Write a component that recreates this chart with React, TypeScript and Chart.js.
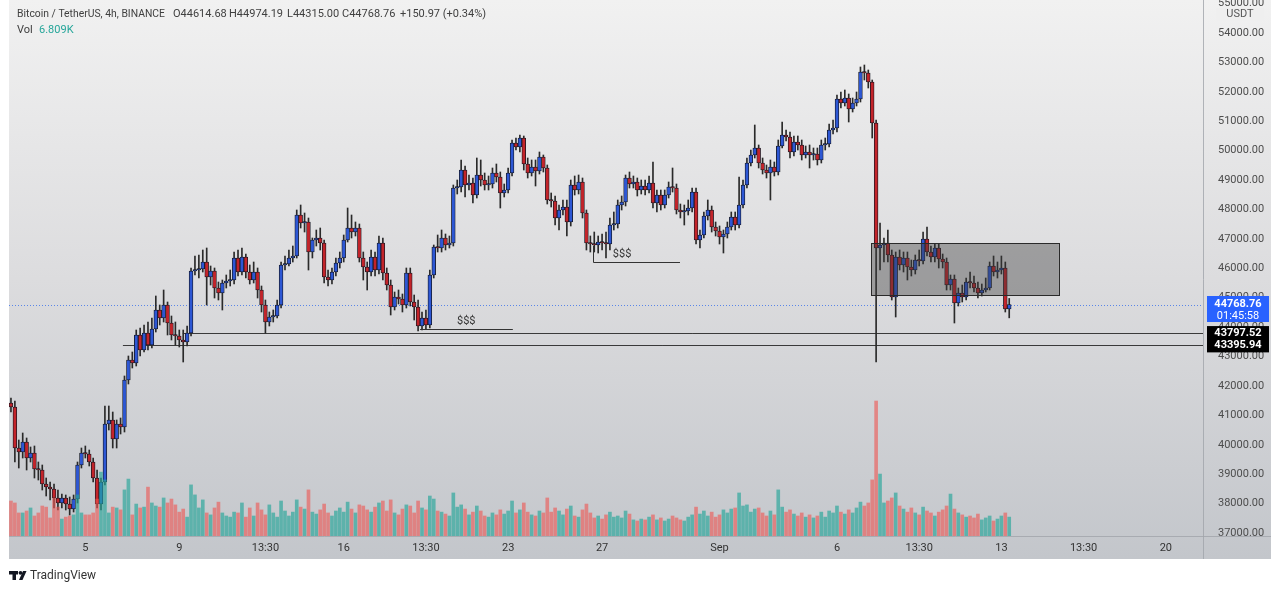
import React, { useEffect, useRef } from 'react';
import { Chart, registerables } from 'chart.js';

Chart.register(...registerables);

// ---- candle data (BTC/USDT 4h) ----
const opens = [
  41420, 41284, 39890, 39754, 40094, 39550, 39720, 39176, 39142, 38666,
  38564, 38496, 38190, 38020, 38190, 37986, 37816, 38156, 39312, 39720,
  39686, 39414, 38870, 37986, 38734, 40706, 40842, 40196, 40706, 40604,
  42202, 42882, 42780, 43732, 43222, 43800, 43392, 43936, 44582, 44310,
  44752, 44140, 43732, 43698, 43562, 43494, 43800, 45908, 45942, 45976,
  46214, 45704, 45908, 45330, 45160, 45500, 45568, 45602, 46350, 45874,
  46384, 45874, 45602, 45874, 45262, 44752, 44174, 44344, 44378, 44752,
  46112, 46146, 46350, 46418, 47812, 47540, 47574, 46554, 46962, 47030,
  46860, 45704, 45602, 45874, 46180, 46350, 46962, 47370, 47234, 47370,
  46350, 46044, 45874, 46384, 45942, 46860, 45840, 45432, 44684, 45024,
  44956, 44752, 45840, 44854, 44684, 44038, 44310, 44072, 45772, 46724,
  46690, 47030, 46792, 46860, 48730, 48764, 49342, 48832, 48900, 48492,
  49172, 49002, 48832, 48866, 49240, 49104, 48560, 48662, 49240, 50260,
  50124, 50430, 49546, 49240, 49444, 49308, 49784, 49410, 48322, 48288,
  47710, 47982, 48084, 47574, 48832, 48662, 48934, 47880, 46860, 46826,
  46792, 46894, 46860, 46826, 47472, 47506, 48152, 48254, 49070, 48866,
  48934, 48662, 48798, 48662, 48900, 48220, 48492, 48152, 48492, 48764,
  48730, 47982, 47914, 47948, 48050, 48594, 46962, 47132, 47778, 47982,
  47404, 47268, 47064, 47166, 47404, 47744, 47472, 48152, 48832, 49580,
  49852, 50090, 49580, 49342, 49240, 49444, 49274, 50158, 50532, 50464,
  49954, 50294, 50192, 49852, 49954, 49852, 49886, 49682, 50192, 50226,
  50702, 50770, 51756, 51620, 51790, 51416, 51620, 51756, 52674, 52640,
  52334, 50940, 46690, 46792, 46860, 46452, 45024, 46384, 46112, 46350,
  46044, 45942, 46282, 46248, 46996, 46554, 46384, 46690, 46316, 46214,
  45432, 45636, 44820, 45160, 45024, 45534, 45500, 45330, 45160, 45262,
  45330, 46078, 45874, 45942, 46010, 44614.68,
];

const closes = [
  41284, 39890, 39754, 40094, 39550, 39720, 39176, 39142, 38666, 38564,
  38496, 38190, 38020, 38190, 37986, 37816, 38156, 39312, 39720, 39686,
  39414, 38870, 37986, 38734, 40706, 40842, 40196, 40706, 40604, 42202,
  42882, 42780, 43732, 43222, 43800, 43392, 43936, 44582, 44310, 44752,
  44140, 43732, 43698, 43562, 43494, 43800, 45908, 45942, 45976, 46214,
  45704, 45908, 45330, 45160, 45500, 45568, 45602, 46350, 45874, 46384,
  45874, 45602, 45874, 45262, 44752, 44174, 44344, 44378, 44752, 46112,
  46146, 46350, 46418, 47812, 47540, 47574, 46554, 46962, 47030, 46860,
  45704, 45602, 45874, 46180, 46350, 46962, 47370, 47234, 47370, 46350,
  46044, 45874, 46384, 45942, 46860, 45840, 45432, 44684, 45024, 44956,
  44752, 45840, 44854, 44684, 44038, 44310, 44072, 45772, 46724, 46690,
  47030, 46792, 46860, 48730, 48764, 49342, 48832, 48900, 48492, 49172,
  49002, 48832, 48866, 49240, 49104, 48560, 48662, 49240, 50260, 50124,
  50430, 49546, 49240, 49444, 49308, 49784, 49410, 48322, 48288, 47710,
  47982, 48084, 47574, 48832, 48662, 48934, 47880, 46860, 46826, 46792,
  46894, 46860, 46826, 47472, 47506, 48152, 48254, 49070, 48866, 48934,
  48662, 48798, 48662, 48900, 48220, 48492, 48152, 48492, 48764, 48730,
  47982, 47914, 47948, 48050, 48594, 46962, 47132, 47778, 47982, 47404,
  47268, 47064, 47166, 47404, 47744, 47472, 48152, 48832, 49580, 49852,
  50090, 49580, 49342, 49240, 49444, 49274, 50158, 50532, 50464, 49954,
  50294, 50192, 49852, 49954, 49852, 49886, 49682, 50192, 50226, 50702,
  50770, 51756, 51620, 51790, 51416, 51620, 51756, 52674, 52640, 52334,
  50940, 46690, 46792, 46860, 46452, 45024, 46384, 46112, 46350, 46044,
  45942, 46282, 46248, 46996, 46554, 46384, 46690, 46316, 46214, 45432,
  45636, 44820, 45160, 45024, 45534, 45500, 45330, 45160, 45262, 45330,
  46078, 45874, 45942, 46010, 44614.68, 44768.76,
];

const highs = [
  41590, 41488, 40162, 40400, 40230, 39924, 39958, 39414, 39312, 38870,
  38734, 38666, 38462, 38326, 38292, 38224, 38292, 39414, 39890, 39958,
  39822, 39550, 39142, 38870, 41318, 41318, 41114, 40842, 40910, 42338,
  43018, 43154, 43902, 43970, 44072, 44174, 44310, 45058, 44752, 45262,
  44854, 44378, 44174, 43902, 43902, 44038, 46010, 46418, 46452, 46622,
  46690, 46078, 46010, 45534, 45602, 45772, 45942, 46554, 46622, 46690,
  46486, 46112, 46214, 46010, 45398, 44922, 44514, 44582, 44922, 46214,
  46418, 46622, 46758, 47982, 48152, 47880, 47710, 47030, 47302, 47370,
  46962, 45942, 46010, 46350, 46554, 47132, 48050, 47812, 47574, 47506,
  46554, 46214, 46622, 46554, 47098, 47030, 46010, 45602, 45194, 45262,
  45126, 46010, 46010, 45092, 44922, 44514, 44582, 45942, 46792, 47132,
  47302, 47166, 47098, 48832, 49002, 49682, 49478, 49172, 49070, 49750,
  49682, 49240, 49138, 49410, 49546, 49274, 48866, 49410, 50362, 50430,
  50532, 50498, 49750, 49682, 49682, 49954, 49852, 49512, 48560, 48458,
  48152, 48322, 48322, 49002, 49138, 49172, 49070, 47982, 47098, 47234,
  47098, 47166, 47234, 47710, 47914, 48322, 48458, 49172, 49274, 49138,
  49070, 49002, 49002, 49138, 49614, 48662, 48662, 48662, 48934, 49410,
  48866, 48186, 48152, 48322, 48730, 48730, 47302, 47914, 48322, 48118,
  47574, 47438, 47302, 47574, 47914, 47914, 49104, 49002, 49750, 50022,
  50872, 50192, 49750, 49512, 49682, 49614, 50362, 50974, 50702, 50634,
  50498, 50498, 50362, 50158, 50192, 50090, 50090, 50362, 50430, 50906,
  51042, 51892, 51994, 52062, 51926, 51790, 51994, 52844, 52912, 52742,
  52402, 51042, 47540, 47030, 47302, 46622, 46554, 46622, 46554, 46554,
  46282, 46452, 46622, 47234, 47404, 46758, 46826, 46826, 46486, 46350,
  45772, 45772, 45330, 45432, 45670, 45874, 45738, 45534, 45466, 45670,
  46214, 46418, 46214, 46418, 46214, 44974.19,
];

const lows = [
  41114, 39414, 39210, 39550, 39142, 39414, 38870, 38802, 38462, 38258,
  38122, 37850, 37782, 37850, 37782, 37612, 37714, 38020, 39210, 39550,
  39278, 38734, 37850, 37782, 38632, 40502, 39890, 39890, 40366, 40434,
  42066, 42610, 42678, 43018, 43154, 43222, 43290, 43834, 44072, 44174,
  43732, 43562, 43392, 43324, 42814, 43358, 43698, 45772, 45670, 45874,
  44752, 45432, 44990, 44922, 44582, 45330, 45398, 45466, 45738, 45772,
  45670, 45466, 45500, 44990, 44514, 43800, 44038, 44174, 44310, 44650,
  45942, 46078, 46214, 46350, 47370, 47234, 45942, 46350, 46758, 46622,
  45500, 45398, 45466, 45738, 46010, 46214, 46894, 47030, 47098, 46214,
  45602, 45262, 45738, 45738, 45806, 45602, 45262, 44412, 44582, 44786,
  44514, 44650, 44718, 44242, 43868, 43902, 43936, 43970, 45670, 46554,
  46554, 46622, 46690, 46758, 48526, 48594, 48424, 48662, 48220, 48390,
  48798, 48662, 48662, 48730, 48934, 48050, 48424, 48560, 49138, 50022,
  49954, 49342, 49070, 49138, 48798, 49206, 49274, 48186, 48084, 47472,
  47302, 47812, 47098, 47438, 48492, 48526, 47710, 46622, 46554, 46554,
  46520, 46622, 46350, 46622, 47302, 47370, 47982, 48118, 48730, 48730,
  48458, 48526, 48492, 48560, 48050, 47914, 47982, 48050, 48390, 48594,
  47846, 47710, 47472, 47812, 47914, 46826, 46690, 47030, 47642, 47234,
  47098, 46826, 46520, 47030, 47302, 47302, 47370, 48050, 48730, 49478,
  49750, 49410, 49206, 49070, 48322, 49138, 49172, 50090, 50328, 49750,
  49818, 50022, 49682, 49750, 49410, 49682, 49512, 49580, 50022, 50124,
  50566, 50634, 51450, 51518, 50974, 51314, 51518, 51654, 52402, 52130,
  50430, 42814, 45942, 46214, 46214, 44922, 44344, 45942, 45874, 45602,
  45738, 45806, 46078, 46146, 46418, 46214, 46214, 46010, 46010, 45262,
  45262, 44140, 44718, 44854, 44922, 45330, 45194, 44990, 45058, 45194,
  45262, 45738, 45670, 45806, 44514, 44315.0,
];

// volume in thousands of BTC
const volumes = [
  12.6, 11.9, 8.3, 8.3, 9.0, 10.1, 7.2, 8.3, 10.8, 10.4,
  6.5, 13.7, 10.4, 6.1, 6.8, 7.2, 7.6, 14.8, 8.3, 7.6,
  7.6, 8.3, 13.3, 23.0, 20.2, 8.3, 10.4, 10.1, 9.4, 16.6,
  20.5, 7.6, 11.5, 10.1, 10.4, 17.6, 11.9, 10.8, 10.4, 13.7,
  11.9, 13.3, 11.2, 8.6, 9.7, 6.8, 18.4, 14.8, 10.1, 13.0,
  8.3, 7.6, 10.1, 12.2, 8.3, 7.2, 6.8, 8.6, 8.3, 11.9,
  6.8, 10.1, 7.2, 11.9, 9.4, 7.6, 11.2, 8.3, 6.8, 12.6,
  9.0, 7.2, 8.6, 13.0, 10.4, 9.7, 16.6, 8.6, 7.9, 9.4,
  11.5, 8.3, 7.2, 9.0, 10.1, 8.6, 12.2, 9.7, 8.3, 11.2,
  10.8, 9.4, 8.6, 10.4, 11.9, 12.6, 9.0, 13.0, 8.3, 7.6,
  9.7, 11.2, 10.8, 8.3, 12.6, 10.1, 9.4, 14.4, 13.3, 9.0,
  8.6, 7.9, 7.2, 15.5, 10.4, 11.2, 9.7, 7.6, 8.6, 10.8,
  9.0, 7.2, 6.8, 8.3, 7.6, 9.4, 7.9, 9.0, 12.6, 8.3,
  9.4, 11.9, 8.6, 7.6, 7.2, 9.0, 8.3, 13.7, 8.6, 10.1,
  9.0, 7.6, 9.7, 10.8, 7.2, 6.8, 9.4, 11.5, 8.3, 6.5,
  7.2, 6.1, 7.6, 8.6, 6.8, 7.2, 6.5, 9.0, 7.9, 5.8,
  5.4, 6.1, 5.8, 6.8, 7.6, 5.8, 6.5, 5.4, 6.1, 7.2,
  6.5, 5.8, 5.4, 6.8, 7.6, 10.4, 7.9, 9.0, 7.2, 8.6,
  6.8, 7.6, 9.4, 8.3, 9.7, 10.1, 15.5, 10.8, 11.2, 8.6,
  9.7, 10.1, 8.3, 7.2, 9.0, 7.6, 16.6, 10.4, 8.6, 9.4,
  7.9, 7.2, 8.3, 6.8, 7.6, 6.5, 7.2, 8.6, 6.8, 9.0,
  8.3, 10.8, 8.6, 7.9, 9.4, 8.3, 10.1, 12.2, 10.8, 11.9,
  20.2, 48.6, 22.3, 11.9, 12.6, 13.7, 15.5, 10.8, 9.7, 8.6,
  10.1, 8.3, 7.6, 10.4, 9.0, 8.3, 7.2, 8.6, 9.4, 10.8,
  15.1, 9.7, 8.3, 7.6, 6.8, 7.2, 6.5, 7.9, 5.8, 6.5,
  7.2, 5.4, 6.1, 7.2, 8.3, 6.809,
];

// time axis: slot index of each visible label
const xTickIndex = [19, 43, 65, 85, 106, 127, 151, 181, 211, 232, 253, 274, 295];
const xTickText = ['5', '9', '13:30', '16', '13:30', '23', '27', 'Sep', '6', '13:30', '13', '13:30', '20'];
const slotCount = 305;

// price axis
const priceTicks = [
  37000, 38000, 39000, 40000, 41000, 42000, 43000, 44000, 45000, 46000,
  47000, 48000, 49000, 50000, 51000, 52000, 53000, 54000, 55000,
];
const priceMin = 36898;
const priceMax = 55122;
const volumeMax = 193;

const headerTitle = 'Bitcoin / TetherUS, 4h, BINANCE';
const headerValues = ['O44614.68', 'H44974.19', 'L44315.00', 'C44768.76', '+150.97 (+0.34%)'];
const volumeText = '6.809K';
const lastPrice = 44768.76;
const countdown = '01:45:58';

const levelPrices = [43797.52, 43395.94];
const levelStartSlot = [43.9, 28.6];

const zoneSlots = [219.7, 267.7];
const zonePrices = [46860, 45092];

const liquidityPrices = [43935, 46214];
const liquiditySlots = [[104.5, 128.2], [148.7, 170.9]];
const liquidityLabelSlot = [116.3, 156.1];
const liquidityTickTop = [null, 46758];

const FONT = 'Roboto, "Noto Sans", sans-serif';

const overlayPlugin = {
  id: 'tvOverlay',
  beforeDraw(chart: any) {
    const { ctx, width, height } = chart;
    ctx.save();
    ctx.fillStyle = '#ffffff';
    ctx.fillRect(0, 0, width, height);
    const g = ctx.createLinearGradient(0, 0, 0, 559);
    g.addColorStop(0, '#f1f1f1');
    g.addColorStop(0.5, '#dcdcde');
    g.addColorStop(1, '#c3c6cb');
    ctx.fillStyle = g;
    ctx.fillRect(9, 0, 1262, 559);
    ctx.restore();
  },
  beforeDatasetsDraw(chart: any) {
    const { ctx, chartArea } = chart;
    const xs = chart.scales.x;
    const ys = chart.scales.y;
    ctx.save();
    const yl = Math.round(ys.getPixelForValue(lastPrice)) + 0.5;
    ctx.strokeStyle = '#5a86e8';
    ctx.lineWidth = 1;
    ctx.setLineDash([1, 2]);
    ctx.beginPath();
    ctx.moveTo(chartArea.left, yl);
    ctx.lineTo(chartArea.right, yl);
    ctx.stroke();
    ctx.setLineDash([]);
    ctx.strokeStyle = '#3a3a3a';
    levelPrices.forEach((p, k) => {
      const y = Math.round(ys.getPixelForValue(p)) + 0.5;
      ctx.beginPath();
      ctx.moveTo(xs.getPixelForValue(levelStartSlot[k]), y);
      ctx.lineTo(chartArea.right, y);
      ctx.stroke();
    });
    ctx.restore();
  },
  afterDatasetsDraw(chart: any) {
    const { ctx } = chart;
    const xs = chart.scales.x;
    const ys = chart.scales.y;
    ctx.save();
    const x0 = xs.getPixelForValue(zoneSlots[0]);
    const x1 = xs.getPixelForValue(zoneSlots[1]);
    const y0 = ys.getPixelForValue(zonePrices[0]);
    const y1 = ys.getPixelForValue(zonePrices[1]);
    ctx.fillStyle = 'rgba(60,60,60,0.4)';
    ctx.fillRect(x0, y0, x1 - x0, y1 - y0);
    ctx.strokeStyle = '#2a2a2a';
    ctx.lineWidth = 1;
    ctx.strokeRect(Math.round(x0) + 0.5, Math.round(y0) + 0.5, Math.round(x1 - x0), Math.round(y1 - y0));
    ctx.strokeStyle = '#333';
    ctx.fillStyle = '#333';
    ctx.font = `11px ${FONT}`;
    ctx.textAlign = 'center';
    ctx.textBaseline = 'bottom';
    liquidityPrices.forEach((p, k) => {
      const y = Math.round(ys.getPixelForValue(p)) + 0.5;
      const a = xs.getPixelForValue(liquiditySlots[k][0]);
      const b = xs.getPixelForValue(liquiditySlots[k][1]);
      ctx.beginPath();
      const top = liquidityTickTop[k];
      if (top !== null) {
        ctx.moveTo(Math.round(a) + 0.5, ys.getPixelForValue(top as number));
        ctx.lineTo(Math.round(a) + 0.5, y);
      } else {
        ctx.moveTo(a, y);
      }
      ctx.lineTo(b, y);
      ctx.stroke();
      ctx.fillText('$$$', xs.getPixelForValue(liquidityLabelSlot[k]), y - 3);
    });
    ctx.restore();
  },
  afterDraw(chart: any) {
    const { ctx, chartArea } = chart;
    const ys = chart.scales.y;
    ctx.save();
    ctx.strokeStyle = 'rgba(160,164,170,0.8)';
    ctx.lineWidth = 1;
    ctx.beginPath();
    ctx.moveTo(Math.round(chartArea.right) + 0.5, 0);
    ctx.lineTo(Math.round(chartArea.right) + 0.5, 559);
    ctx.stroke();
    ctx.beginPath();
    ctx.moveTo(9, Math.round(chartArea.bottom) + 0.5);
    ctx.lineTo(1271, Math.round(chartArea.bottom) + 0.5);
    ctx.stroke();

    // header
    ctx.textBaseline = 'middle';
    ctx.textAlign = 'left';
    ctx.font = `11px ${FONT}`;
    ctx.fillStyle = '#404040';
    ctx.fillText(headerTitle, 17, 14, 148);
    const hx = [173, 229, 287, 342, 400];
    headerValues.forEach((t, k) => ctx.fillText(t, hx[k], 14));
    ctx.fillText('Vol', 17, 30);
    ctx.fillStyle = '#26a69a';
    ctx.fillText(volumeText, 39, 30);

    // USDT unit box
    const ax = chartArea.right;
    ctx.fillStyle = '#efefef';
    ctx.fillRect(ax + 13, 8, 48, 13);
    ctx.fillStyle = '#555';
    ctx.textAlign = 'center';
    ctx.fillText('USDT', ax + 37, 14.5);

    // last price label
    const yl = ys.getPixelForValue(lastPrice);
    ctx.fillStyle = '#2962ff';
    ctx.fillRect(ax + 4, yl - 8.5, 62, 26);
    ctx.fillStyle = '#ffffff';
    ctx.font = `bold 11px ${FONT}`;
    ctx.fillText(lastPrice.toFixed(2), ax + 35, yl);
    ctx.font = `11px ${FONT}`;
    ctx.fillText(countdown, ax + 35, yl + 12);

    // level labels
    levelPrices.forEach((p) => {
      const y = ys.getPixelForValue(p);
      ctx.fillStyle = '#000000';
      ctx.fillRect(ax + 4, y - 7, 62, 14.5);
      ctx.fillStyle = '#ffffff';
      ctx.font = `bold 11px ${FONT}`;
      ctx.fillText(p.toFixed(2), ax + 35, y + 0.5);
    });

    // footer logo
    ctx.fillStyle = '#131722';
    ctx.fillRect(9, 571, 9, 3.5);
    ctx.fillRect(12.5, 571, 3.5, 9);
    ctx.beginPath();
    ctx.arc(20.5, 572.8, 1.9, 0, Math.PI * 2);
    ctx.fill();
    ctx.beginPath();
    ctx.moveTo(23, 571);
    ctx.lineTo(26.5, 571);
    ctx.lineTo(22.5, 580);
    ctx.lineTo(19, 580);
    ctx.closePath();
    ctx.fill();
    ctx.textAlign = 'left';
    ctx.fillStyle = '#333';
    ctx.font = `12px ${FONT}`;
    ctx.fillText('TradingView', 30, 576);
    ctx.restore();
  },
};

export default function App() {
  const ref = useRef<HTMLCanvasElement | null>(null);

  useEffect(() => {
    document.body.style.margin = '0';
    document.body.style.background = '#ffffff';
    if (!ref.current) return;

    const labels = Array.from({ length: slotCount }, (_, i) => {
      const k = xTickIndex.indexOf(i);
      return k >= 0 ? xTickText[k] : '';
    });
    const isUp = closes.map((c, i) => c >= opens[i]);
    const bodyData = closes.map((c, i) => [opens[i], c]);
    const wickData = closes.map((c, i) => [lows[i], highs[i]]);

    const chart = new Chart(ref.current, {
      type: 'bar',
      data: {
        labels,
        datasets: [
          {
            label: 'Volume',
            data: volumes as any,
            yAxisID: 'y2',
            backgroundColor: isUp.map((u) => (u ? 'rgba(38,166,154,0.66)' : 'rgba(239,83,80,0.6)')),
            barThickness: 3,
            grouped: false,
            order: 0,
          } as any,
          {
            label: 'Body',
            data: bodyData as any,
            yAxisID: 'y',
            backgroundColor: isUp.map((u) => (u ? '#2d57d4' : '#c3242a')),
            borderColor: '#151722',
            borderWidth: 0.8,
            borderSkipped: false,
            barThickness: 3.8,
            minBarLength: 1.5,
            grouped: false,
            order: 1,
          } as any,
          {
            label: 'Wick',
            data: wickData as any,
            yAxisID: 'y',
            backgroundColor: '#2a2a2a',
            barThickness: 1,
            grouped: false,
            order: 2,
          } as any,
        ],
      },
      options: {
        animation: false,
        responsive: true,
        maintainAspectRatio: false,
        events: [],
        layout: { padding: { left: 9, right: 9, top: 0, bottom: 32 } },
        plugins: { legend: { display: false }, tooltip: { enabled: false } },
        scales: {
          x: {
            type: 'category',
            offset: true,
            grid: { display: false, drawTicks: false },
            border: { display: false },
            ticks: {
              autoSkip: false,
              maxRotation: 0,
              color: '#333',
              padding: 6,
              font: { family: FONT, size: 11 },
            },
            afterBuildTicks: (s: any) => {
              s.ticks = xTickIndex.map((v) => ({ value: v }));
            },
            afterFit: (s: any) => {
              s.height = 23;
              s.paddingLeft = 0;
              s.paddingRight = 0;
            },
          } as any,
          y: {
            type: 'linear',
            position: 'right',
            min: priceMin,
            max: priceMax,
            grid: { display: false, drawTicks: false },
            border: { display: false },
            ticks: {
              autoSkip: false,
              color: '#4d4d4d',
              padding: 15,
              font: { family: FONT, size: 11 },
              callback: (v: any) => Number(v).toFixed(2),
            },
            afterBuildTicks: (s: any) => {
              s.ticks = priceTicks.map((v) => ({ value: v }));
            },
            afterFit: (s: any) => {
              s.width = 68;
              s.paddingTop = 0;
              s.paddingBottom = 0;
            },
          } as any,
          y2: {
            type: 'linear',
            display: false,
            min: 0,
            max: volumeMax,
          },
        },
      },
      plugins: [overlayPlugin],
    });

    return () => chart.destroy();
  }, []);

  return (
    <div style={{ position: 'relative', width: 1280, height: 591 }}>
      <canvas ref={ref} />
    </div>
  );
}
